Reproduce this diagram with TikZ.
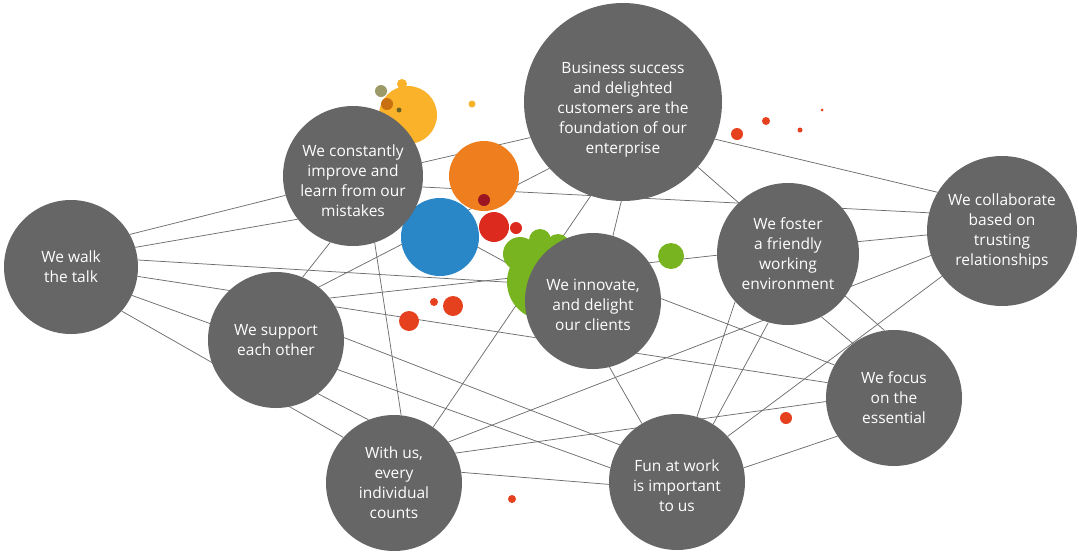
\documentclass[tikz,border=0pt]{standalone}
\usepackage{fontspec}
\setmainfont{Open Sans}
\usetikzlibrary{backgrounds}
\definecolor{circgray}{HTML}{666666}
\definecolor{linegray}{HTML}{6E6E6E}
\definecolor{cyellow}{HTML}{F9B22A}
\definecolor{corange}{HTML}{EF7E1F}
\definecolor{cblue}{HTML}{2A87C7}
\definecolor{cred}{HTML}{DD2A1E}
\definecolor{cdred}{HTML}{9B1522}
\definecolor{cgreen}{HTML}{77B41F}
\definecolor{cdot}{HTML}{E6411F}
\definecolor{csage}{HTML}{9C9A68}
\definecolor{cbrown}{HTML}{C8700F}
\definecolor{colive}{HTML}{6F6424}
\begin{document}
\begin{tikzpicture}[x=1pt,y=-1pt,
  bub/.style={circle, fill=circgray, text=white, align=center, inner sep=0pt,
    font=\fontsize{15.5}{20}\selectfont},
  conn/.style={draw=linegray, line width=0.75pt}]
\useasboundingbox (0,0) rectangle (1079,555);
% coloured dots
\fill[cyellow] (408,115) circle (29pt);
\fill[cyellow] (402,84) circle (5pt);
\fill[csage] (381,91) circle (6pt);
\fill[cbrown] (387,104) circle (6pt);
\fill[colive] (399,110) circle (2.5pt);
\fill[cyellow] (472,104) circle (3.5pt);
\fill[corange] (484,176) circle (35pt);
\fill[cdred] (484,200) circle (6pt);
\fill[cblue] (440,237) circle (39pt);
\fill[cred] (494,227) circle (15pt);
\fill[cred] (516,228) circle (6pt);
\fill[cgreen] (545,282) circle (38pt);
\fill[cgreen] (520,254) circle (17pt);
\fill[cgreen] (540,240) circle (11pt);
\fill[cgreen] (558,246) circle (12pt);
\fill[cgreen] (671,256) circle (13pt);
\fill[cdot] (409,321) circle (10pt);
\fill[cdot] (453,306) circle (10pt);
\fill[cdot] (434,302) circle (4pt);
\fill[cdot] (737,134) circle (6pt);
\fill[cdot] (766,121) circle (4pt);
\fill[cdot] (800,130) circle (2.5pt);
\fill[cdot] (822,110) circle (1.5pt);
\fill[cdot] (786,418) circle (6pt);
\fill[cdot] (512,499) circle (4pt);
% value circles
\node[bub, minimum size=134pt] (W) at (71,267) {We walk\\the talk};
\node[bub, minimum size=140pt] (I) at (353,176) {\rule{0pt}{21pt}We constantly\\improve and\\learn from our\\mistakes};
\node[bub, minimum size=198pt] (B) at (623,102) {\rule{0pt}{27pt}Business success\\and delighted\\customers are the\\foundation of our\\enterprise};
\node[bub, minimum size=150pt] (C) at (1002,231) {We collaborate\\based on\\trusting\\relationships};
\node[bub, minimum size=142pt] (F) at (788,254) {We foster\\a friendly\\working\\environment};
\node[bub, minimum size=136pt] (N) at (593,301) {\rule{0pt}{19pt}We innovate,\\and delight\\our clients};
\node[bub, minimum size=136pt] (S) at (276,340) {We support\\each other};
\node[bub, minimum size=136pt] (E) at (894,398) {We focus\\on the\\essential};
\node[bub, minimum size=136pt] (U) at (394,483) {With us,\\every\\individual\\counts};
\node[bub, minimum size=136pt] (Fun) at (677,482) {\rule{0pt}{19pt}Fun at work\\is important\\to us};
% connectors
\begin{scope}[on background layer]
\draw[conn] (W.29) -- (I.196);
\draw[conn] (W.17) -- (I.218);
\draw[conn] (W.6) -- (N.165);
\draw[conn] (W.-8) -- (E.167);
\draw[conn] (W.-25) -- (Fun.168);
\draw[conn] (W.-41) -- (U.138);
\draw[conn] (S.67) -- (I.251);
\draw[conn] (S.51) -- (B.222);
\draw[conn] (S.38) -- (F.181);
\draw[conn] (S.2) -- (Fun.147);
\draw[conn] (S.-52) -- (U.112);
\draw[conn] (I.-72) -- (U.84);
\draw[conn] (I.11) -- (B.201);
\draw[conn] (I.-9) -- (C.166);
\draw[conn] (I.-31) -- (N.158);
\draw[conn] (U.55) -- (B.251);
\draw[conn] (U.37) -- (C.199);
\draw[conn] (U.26) -- (E.183);
\draw[conn] (U.9) -- (Fun.182);
\draw[conn] (N.73) -- (B.269);
\draw[conn] (N.-76) -- (Fun.121);
\draw[conn] (N.2) -- (E.151);
\draw[conn] (B.-22) -- (C.149);
\draw[conn] (B.-41) -- (E.98);
\draw[conn] (F.10) -- (C.183);
\draw[conn] (F.-62) -- (E.127);
\draw[conn] (Fun.73) -- (F.222);
\draw[conn] (Fun.58) -- (F.254);
\draw[conn] (Fun.42) -- (C.217);
\draw[conn] (Fun.12) -- (E.214);
\end{scope}
\end{tikzpicture}
\end{document}
